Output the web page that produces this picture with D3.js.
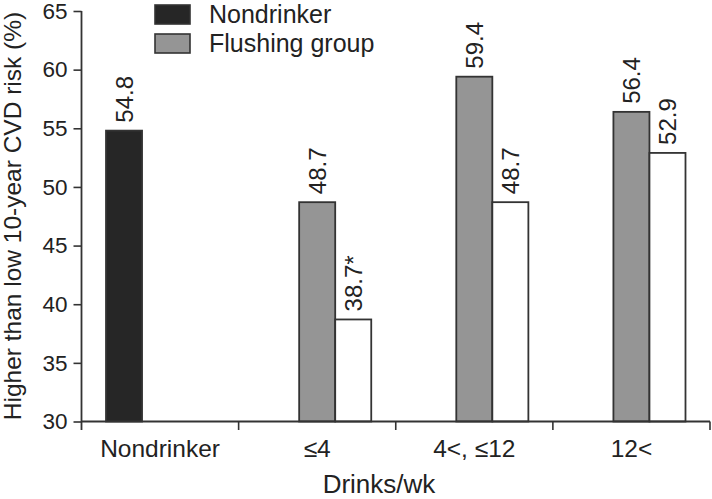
<!DOCTYPE html>
<html><head><meta charset="utf-8">
<script src="https://cdn.jsdelivr.net/npm/d3@7"></script>
<style>
html,body{margin:0;padding:0;background:#fff;}
text{font-family:"Liberation Sans",Arial,sans-serif;fill:#222;}
</style></head>
<body>
<svg id="chart" width="712" height="499"></svg>
<script>
const categories = ["Nondrinker", "\u22644", "4<, \u226412", "12<"];
const seriesNames = ["Nondrinker", "Flushing group", "Non-flushing group"];
const nondrinker = [54.8, null, null, null];
const flushing = [null, 48.7, 59.4, 56.4];
const nonFlushing = [null, 38.7, 48.7, 52.9];
const nonFlushingMarks = ["", "*", "", ""];
const yTicks = [30, 35, 40, 45, 50, 55, 60, 65];
const legendItems = ["Nondrinker", "Flushing group"];
const yTitle = "Higher than low 10-year CVD risk (%)";
const xTitle = "Drinks/wk";

const colors = {"Nondrinker": "#262626", "Flushing group": "#959595", "Non-flushing group": "#ffffff"};
const svg = d3.select("#chart");
const x0 = d3.scaleBand().domain(categories).range([81.5, 710]).padding(0);
const x1 = d3.scaleBand().domain(seriesNames).range([0, x0.bandwidth()]).paddingInner(0).paddingOuter(0.68);
const y = d3.scaleLinear().domain([30, 65]).range([421.5, 11]);

const rows = [];
categories.forEach((c, i) => {
  [[seriesNames[0], nondrinker[i], ""], [seriesNames[1], flushing[i], ""], [seriesNames[2], nonFlushing[i], nonFlushingMarks[i]]]
    .forEach(([s, v, m]) => { if (v != null) rows.push({c, s, v, m}); });
});

// bars
svg.append("g").selectAll("rect").data(rows).join("rect")
  .attr("x", d => x0(d.c) + x1(d.s))
  .attr("y", d => y(d.v))
  .attr("width", x1.bandwidth())
  .attr("height", d => y(30) - y(d.v))
  .attr("fill", d => colors[d.s])
  .attr("stroke", "#333").attr("stroke-width", 1.8);

// value labels
svg.append("g").selectAll("text").data(rows).join("text")
  .attr("transform", d => `translate(${x0(d.c) + x1(d.s) + x1.bandwidth()/2 + 8.5},${y(d.v) - 8}) rotate(-90)`)
  .attr("text-anchor", "start")
  .style("font-size", "24px")
  .text(d => d.v.toFixed(1) + d.m);

// y axis
const yAxis = d3.axisLeft(y).tickValues(yTicks).tickSize(8).tickPadding(6).tickFormat(d3.format("d"));
const gy = svg.append("g").attr("transform", "translate(81.5,0)").call(yAxis);
gy.select(".domain").remove();
gy.selectAll(".tick line").attr("stroke", "#333").attr("stroke-width", 1.6);
gy.selectAll(".tick text").style("font-size", "22.5px").attr("fill", "#222").style("font-family", "'Liberation Sans',Arial,sans-serif");
svg.append("line").attr("x1", 81.5).attr("x2", 81.5).attr("y1", y(65)).attr("y2", 430)
  .attr("stroke", "#333").attr("stroke-width", 1.8);

// x axis
svg.append("line").attr("x1", 81.5).attr("x2", 710).attr("y1", y(30)).attr("y2", y(30))
  .attr("stroke", "#333").attr("stroke-width", 1.8);
const boundaries = categories.map(c => x0(c) + x0.bandwidth());
svg.append("g").selectAll("line").data(boundaries).join("line")
  .attr("x1", d => d).attr("x2", d => d).attr("y1", y(30)).attr("y2", 430)
  .attr("stroke", "#333").attr("stroke-width", 1.6);
svg.append("g").selectAll("text").data(categories).join("text")
  .attr("x", d => x0(d) + x0.bandwidth()/2).attr("y", 457)
  .attr("text-anchor", "middle").style("font-size", "24.5px").text(d => d);

// titles
svg.append("text").attr("x", 379).attr("y", 493).attr("text-anchor", "middle")
  .style("font-size", "26px").text(xTitle);
svg.append("text").attr("transform", "translate(21,216) rotate(-90)").attr("text-anchor", "middle")
  .style("font-size", "24.5px").text(yTitle);

// legend
const lg = svg.append("g").selectAll("g").data(legendItems).join("g")
  .attr("transform", (d, i) => `translate(155,${5 + i * 29})`);
lg.append("rect").attr("width", 35).attr("height", 19).attr("fill", d => colors[d])
  .attr("stroke", "#333").attr("stroke-width", 1.6);
lg.append("text").attr("x", 54).attr("y", 18).style("font-size", "25px").text(d => d);
</script>
</body></html>
